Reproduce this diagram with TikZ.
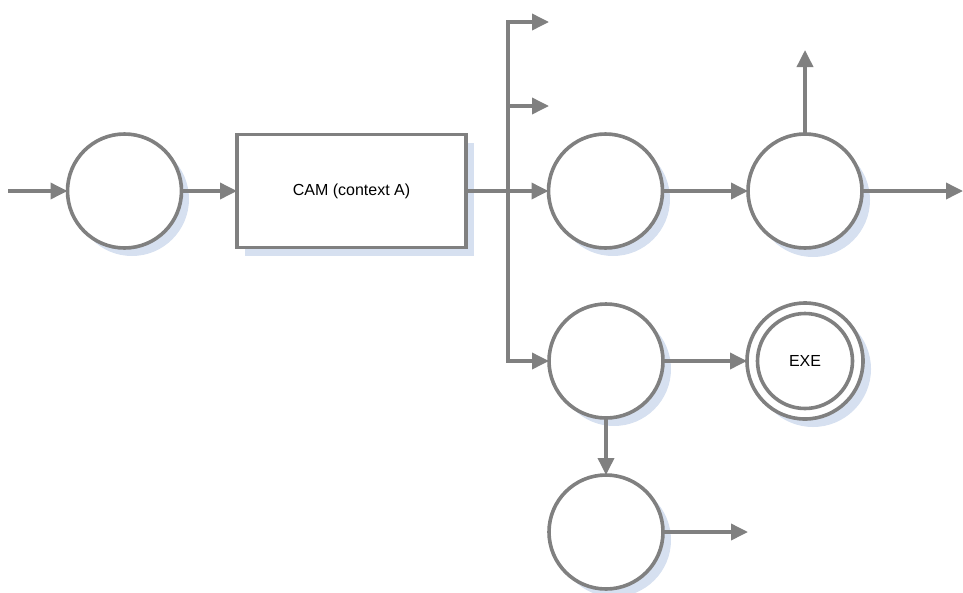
\documentclass[tikz,border=0pt]{standalone}
\usepackage{fontspec}
\setmainfont{Liberation Sans}
\usetikzlibrary{arrows.meta}
\definecolor{linegray}{RGB}{128,128,128}
\definecolor{shadowblue}{RGB}{214,224,240}
\tikzset{
  state/.style={circle, draw=linegray, line width=3.6pt, fill=white,
    minimum size=114pt, inner sep=0pt, outer sep=0pt},
  procbox/.style={rectangle, draw=linegray, line width=3.6pt, fill=white,
    minimum width=229pt, minimum height=113pt, inner sep=0pt, outer sep=0pt,
    font=\fontsize{16}{19}\selectfont},
  flow/.style={draw=linegray, line width=3.6pt,
    -{Triangle[length=17pt,width=16pt]}},
  wire/.style={draw=linegray, line width=3.6pt},
  shade/.style={fill=shadowblue, draw=none}
}
\begin{document}
\begin{tikzpicture}[x=1pt,y=-1pt]
\useasboundingbox (0,0) rectangle (963,592);

% soft drop shadows behind the shapes
\fill[shade] (132,199) circle (57);
\fill[shade] (245,143) rectangle (474,256);
\fill[shade] (613,199) circle (57);
\fill[shade] (813,200) circle (57);
\fill[shade] (614,369) circle (57);
\fill[shade] (813,369) circle (58);
\fill[shade] (614,540) circle (57);

% states and the CAM block
\node[state] (c1) at (124.5,191) {};
\node[procbox] (cam) at (351.5,191) {CAM (context A)};
\node[state] (c2) at (605.5,191) {};
\node[state] (c3) at (805,191) {};
\node[state] (c4) at (606,361) {};
\node[state, minimum size=116pt, font=\fontsize{16}{19}\selectfont] (exe) at (805,361) {EXE};
\draw[linegray, line width=3.6pt] (exe.center) circle (47.5);
\node[state] (c5) at (606,532) {};

% free ends of the connectors
\coordinate (in) at (8,191);
\coordinate (jtop) at (508,22);
\coordinate (jmid) at (508,106);
\coordinate (jbot) at (508,361);
\coordinate (t1) at (549,22);
\coordinate (t2) at (549,106);
\coordinate (c3up) at (805,50);
\coordinate (c3out) at (963,191);
\coordinate (c5out) at (748,532);

% connectors
\draw[flow] (in) -- (c1.west);
\draw[flow] (c1.east) -- (cam.west);
\draw[flow] (cam.east) -- (c2.west);
\draw[wire] (jtop) -- (jbot);
\draw[flow] ([xshift=-1.8pt]jtop) -- (t1);
\draw[flow] (jmid) -- (t2);
\draw[flow] ([xshift=-1.8pt]jbot) -- (c4.west);
\draw[flow] (c2.east) -- (c3.west);
\draw[flow] (c3.north) -- (c3up);
\draw[flow] (c3.east) -- (c3out);
\draw[flow] (c4.east) -- (exe.west);
\draw[flow] (c4.south) -- (c5.north);
\draw[flow] (c5.east) -- (c5out);
\end{tikzpicture}
\end{document}
